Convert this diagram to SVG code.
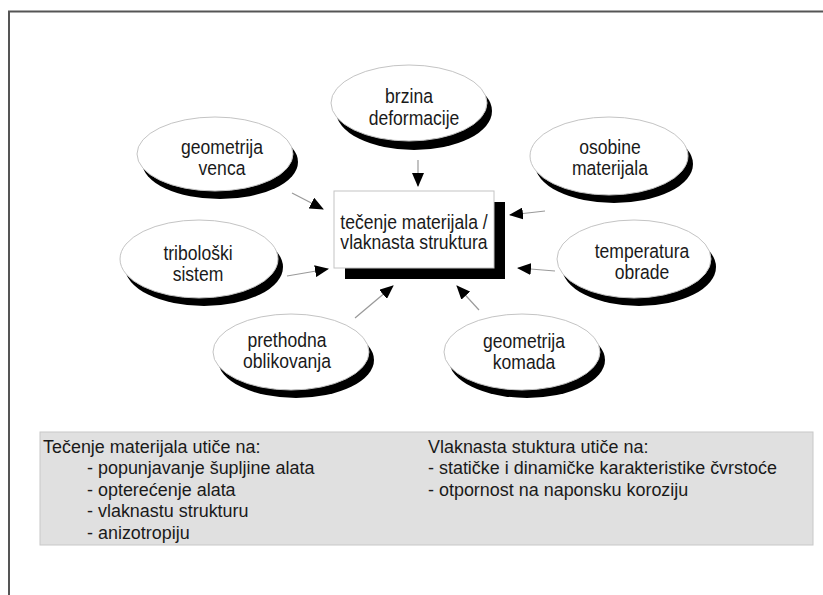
<svg xmlns="http://www.w3.org/2000/svg" width="823" height="595" viewBox="0 0 823 595">
<style>
.t{font-family:"Liberation Sans",Arial,sans-serif;font-size:19.5px;fill:#1a1a1a;text-anchor:middle}
.b{font-family:"Liberation Sans",Arial,sans-serif;font-size:18.5px;fill:#1a1a1a}
.el{fill:#fff;stroke:#c4c4c4;stroke-width:1}
.sh{fill:#000}
.c{stroke:#9a9a9a;stroke-width:1.2;fill:none;marker-end:url(#ah)}
</style>
<defs>
<marker id="ah" markerUnits="userSpaceOnUse" markerWidth="14" markerHeight="12" refX="13" refY="6" orient="auto">
<path d="M0,0 L14,6 L0,12 Z" fill="#000"/>
</marker>
</defs>
<rect width="823" height="595" fill="#fff"/>
<path d="M9,595 V11.5 H823" fill="none" stroke="#555" stroke-width="2"/>

<g id="connectors">
<line class="c" x1="418" y1="160" x2="418" y2="186"/>
<line class="c" x1="292" y1="193" x2="323" y2="209"/>
<line class="c" x1="545" y1="211" x2="510" y2="215"/>
<line class="c" x1="287" y1="276" x2="328" y2="269"/>
<line class="c" x1="555" y1="271" x2="518" y2="268"/>
<line class="c" x1="355" y1="318" x2="393" y2="286"/>
<line class="c" x1="479" y1="310" x2="457" y2="286"/>
</g>

<g id="center">
<rect class="sh" x="345" y="202" width="160" height="77"/>
<rect x="334" y="191" width="160" height="77" fill="#fff" stroke="#c4c4c4"/>
<text class="t" transform="translate(414,229) scale(0.9,1)">tečenje materijala /</text>
<text class="t" transform="translate(414,249) scale(0.9,1)">vlaknasta struktura</text>
</g>

<g id="brzina">
<ellipse class="sh" cx="414" cy="111" rx="78" ry="39"/>
<ellipse class="el" cx="409" cy="103" rx="78" ry="38"/>
<text class="t" transform="translate(409,103) scale(0.9,1)">brzina</text>
<text class="t" transform="translate(414,125) scale(0.9,1)">deformacije</text>
</g>

<g id="geometrija-venca">
<ellipse class="sh" cx="220" cy="162" rx="78" ry="37"/>
<ellipse class="el" cx="215" cy="154" rx="78" ry="37"/>
<text class="t" transform="translate(222,154) scale(0.9,1)">geometrija</text>
<text class="t" transform="translate(222,175) scale(0.9,1)">venca</text>
</g>

<g id="osobine">
<ellipse class="sh" cx="614" cy="164" rx="79" ry="39"/>
<ellipse class="el" cx="609" cy="156" rx="79" ry="39"/>
<text class="t" transform="translate(610,154) scale(0.9,1)">osobine</text>
<text class="t" transform="translate(610,175) scale(0.9,1)">materijala</text>
</g>

<g id="tribologija">
<ellipse class="sh" cx="204" cy="267" rx="79" ry="39"/>
<ellipse class="el" cx="199" cy="259" rx="79" ry="39"/>
<text class="t" transform="translate(198,260) scale(0.9,1)">tribološki</text>
<text class="t" transform="translate(198,281) scale(0.9,1)">sistem</text>
</g>

<g id="temperatura">
<ellipse class="sh" cx="639" cy="267" rx="77" ry="39"/>
<ellipse class="el" cx="634" cy="259" rx="77" ry="39"/>
<text class="t" transform="translate(642,258) scale(0.9,1)">temperatura</text>
<text class="t" transform="translate(642,279) scale(0.9,1)">obrade</text>
</g>

<g id="prethodna">
<ellipse class="sh" cx="296" cy="360" rx="78" ry="38"/>
<ellipse class="el" cx="291" cy="352" rx="78" ry="38"/>
<text class="t" transform="translate(287,347) scale(0.9,1)">prethodna</text>
<text class="t" transform="translate(287,368) scale(0.9,1)">oblikovanja</text>
</g>

<g id="geometrija-komada">
<ellipse class="sh" cx="527" cy="360" rx="78" ry="38"/>
<ellipse class="el" cx="522" cy="352" rx="78" ry="38"/>
<text class="t" transform="translate(524,348) scale(0.9,1)">geometrija</text>
<text class="t" transform="translate(524,369) scale(0.9,1)">komada</text>
</g>

<g id="legend">
<rect x="40" y="432" width="773" height="113" fill="#e0e0e0" stroke="#c8c8c8"/>
<text class="b" transform="translate(43,453) scale(0.97,1)">Tečenje materijala utiče na:</text>
<text class="b" transform="translate(87,474) scale(0.97,1)">- popunjavanje šupljine alata</text>
<text class="b" transform="translate(87,496) scale(0.97,1)">- opterećenje alata</text>
<text class="b" transform="translate(87,517) scale(0.97,1)">- vlaknastu strukturu</text>
<text class="b" transform="translate(87,539) scale(0.97,1)">- anizotropiju</text>
<text class="b" transform="translate(428,453) scale(0.97,1)">Vlaknasta stuktura utiče na:</text>
<text class="b" transform="translate(428,474) scale(0.97,1)">- statičke i dinamičke karakteristike čvrstoće</text>
<text class="b" transform="translate(428,496) scale(0.97,1)">- otpornost na naponsku koroziju</text>
</g>
</svg>
